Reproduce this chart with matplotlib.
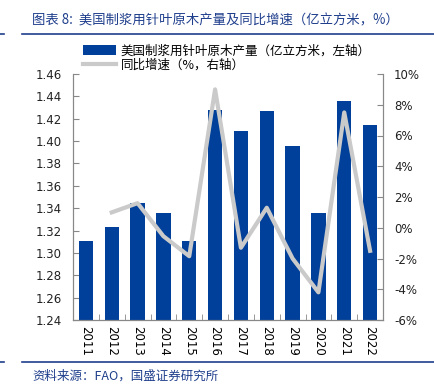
import matplotlib.pyplot as plt
import numpy as np

plt.rcParams['font.family'] = ['DejaVu Sans', 'Noto Sans CJK SC']

years = ['2011', '2012', '2013', '2014', '2015', '2016', '2017', '2018', '2019', '2020', '2021', '2022']
volume = [1.311, 1.323, 1.345, 1.336, 1.311, 1.428, 1.409, 1.427, 1.396, 1.336, 1.436, 1.414]
growth = [np.nan, 1.0, 1.6, -0.55, -1.85, 9.0, -1.3, 1.3, -2.0, -4.2, 7.5, -1.5]

bar_color = '#00409A'
line_color = '#CACACA'
title_color = '#1F3E8C'
cjk = ['Noto Sans CJK SC', 'DejaVu Sans']

fig = plt.figure(figsize=(4.34, 3.84), dpi=100)
ax = fig.add_axes([73/434, 1 - 320/384, 310/434, 246/384])
ax2 = ax.twinx()

x = np.arange(len(years))
bars = ax.bar(x, volume, width=0.55, color=bar_color, zorder=2,
              label='美国制浆用针叶原木产量（亿立方米，左轴）')
ax.set_ylim(1.24, 1.46)
ax.set_yticks(np.arange(1.24, 1.4601, 0.02))
ax.set_yticklabels([f'{v:.2f}' for v in np.arange(1.24, 1.4601, 0.02)])
ax.set_xlim(-0.5, len(years) - 0.5)
ax.set_xticks(x)
ax.set_xticklabels(years, rotation=270)
ax.set_xticks(np.arange(-0.5, len(years)), minor=True)

ln, = ax2.plot(x, growth, color=line_color, lw=3, zorder=3,
               label='同比增速（%，右轴）')
ax2.set_ylim(-6, 10)
ax2.set_yticks(np.arange(-6, 11, 2))
ax2.set_yticklabels([f'{v}%' for v in range(-6, 11, 2)])

for a in (ax, ax2):
    a.spines['top'].set_visible(False)
    for s in ('left', 'right', 'bottom'):
        a.spines[s].set_color('#888888')
        a.spines[s].set_linewidth(0.8)
    a.tick_params(axis='y', direction='in', length=4, color='#888888',
                  labelsize=8.5, labelcolor='#222222', pad=8)
ax.tick_params(axis='x', which='major', length=0, labelsize=8.5, pad=4)
ax.tick_params(axis='x', which='minor', direction='in', length=4, color='#888888')

leg = fig.legend(handles=[bars, ln], loc='upper left', bbox_to_anchor=(77/434, 1 - 38/384),
                 frameon=False, prop={'family': cjk, 'size': 9},
                 handlelength=2.6, handleheight=0.9, labelspacing=0.1,
                 borderpad=0, handletextpad=0.4)

fig.text(32/434, 1 - 20/384, '图表 8:  美国制浆用针叶原木产量及同比增速（亿立方米，%）',
         family=cjk, size=9.6, color=title_color, style='italic', va='center')
fig.add_artist(plt.Line2D([22/434, 1], [1 - 34/384] * 2, color=title_color, lw=1.2))
fig.add_artist(plt.Line2D([0, 4/434], [1 - 34/384] * 2, color=title_color, lw=1.2))
fig.add_artist(plt.Line2D([22/434, 1], [1 - 362/384] * 2, color=title_color, lw=1.2))
fig.add_artist(plt.Line2D([0, 4/434], [1 - 362/384] * 2, color=title_color, lw=1.2))
fig.text(32/434, 1 - 376/384, '资料来源：FAO，国盛证券研究所',
         family=cjk, size=9, color=title_color, style='italic', va='center')

fig.savefig('out.png', dpi=100)
